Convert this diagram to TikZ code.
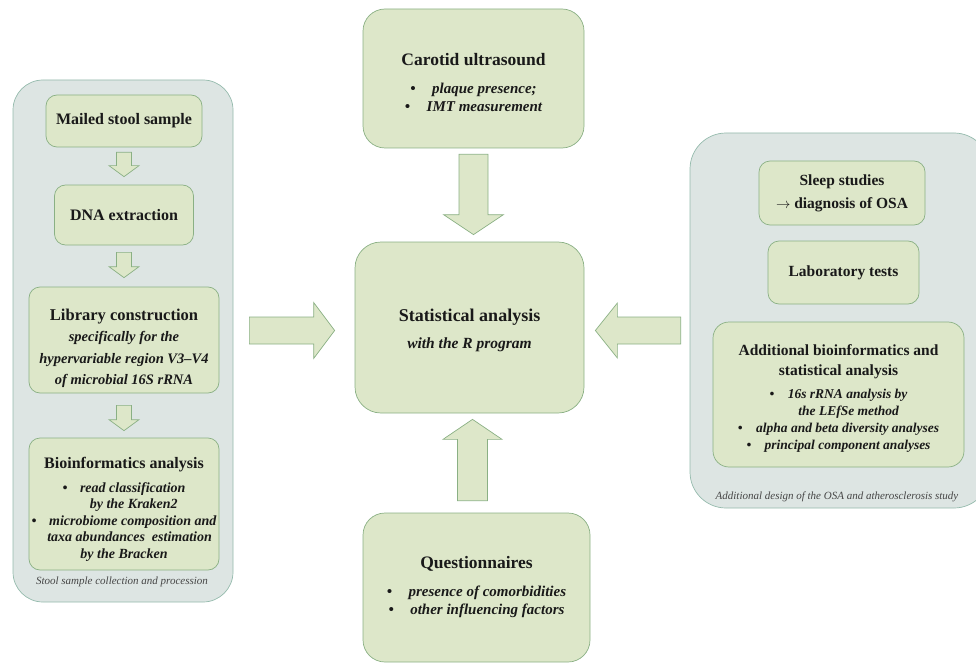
\documentclass[tikz,border=0pt]{standalone}
\usepackage{fontspec}
\setmainfont{Liberation Serif}
\usetikzlibrary{calc}

\definecolor{boxfill}{RGB}{221,231,201}
\definecolor{boxline}{RGB}{138,176,132}
\definecolor{panelfill}{RGB}{221,229,227}
\definecolor{panelline}{RGB}{148,186,172}
\definecolor{txt}{RGB}{25,25,25}
\definecolor{captxt}{RGB}{70,70,70}

\tikzset{
  box/.style={draw=boxline, fill=boxfill, line width=0.7pt, rounded corners=11pt,
    align=center, inner sep=0pt, text=txt},
  bigbox/.style={box, rounded corners=22pt},
  panel/.style={draw=panelline, fill=panelfill, line width=0.7pt, rounded corners=30pt, inner sep=0pt},
  caption/.style={font=\fontsize{11}{13}\selectfont\itshape, text=captxt},
  fatarrow/.style n args={3}{draw=boxline, fill=boxfill, line width=0.7pt,
    to path={($(\tikztotarget)!#3!(\tikztostart)$) coordinate (hb)
      ($(\tikztostart)!#1!90:(\tikztotarget)$) -- ($(hb)!#1!90:(\tikztotarget)$)
      -- ($(hb)!#2!90:(\tikztotarget)$) -- (\tikztotarget)
      -- ($(hb)!#2!-90:(\tikztotarget)$) -- ($(hb)!#1!-90:(\tikztotarget)$)
      -- ($(\tikztostart)!#1!-90:(\tikztotarget)$) -- cycle}}
}
\newcommand\hdline[2]{{\upshape\fontsize{#1}{18}\selectfont #2}}

\begin{document}
\begin{tikzpicture}[x=1pt, y=-1pt]
  \useasboundingbox (0,0) rectangle (976,663);

  % stool sample panel
  \node[panel, minimum width=220, minimum height=522] (leftpanel) at (123,341) {};
  \node[box, minimum width=156, minimum height=52, font=\fontsize{16}{20}\selectfont\bfseries]
    (mailed) at (124,121) {Mailed stool sample};
  \node[box, minimum width=139, minimum height=60, font=\fontsize{16}{20}\selectfont\bfseries]
    (dna) at (124,215) {DNA extraction};
  \node[box, minimum width=190, minimum height=106, font=\fontsize{14.5}{21.5}\selectfont\bfseries\itshape]
    (library) at (124,340) {\hdline{16.5}{\rule{0pt}{28pt}Library construction}\\
      specifically for the\\hypervariable region V3–V4\\of microbial 16S rRNA};
  \node[box, minimum width=190, minimum height=132, font=\fontsize{14}{15.5}\selectfont\bfseries\itshape]
    (bioinf) at (124,504) {\hdline{16}{\rule{0pt}{22pt}Bioinformatics analysis}\\[9pt]
      \textbullet\hspace{0.9em}read classification\\
      \hspace{1.4em}by the Kraken2\\[2pt]
      \textbullet\hspace{0.9em}microbiome composition and\\
      \hspace{0.8em}taxa abundances\ \ estimation\\[2pt]
      by the Bracken};
  \node[caption] (leftcap) at (122,582) {Stool sample collection and procession};

  \draw[fatarrow={7.5pt}{15pt}{11pt}] ([yshift=-5pt]mailed.south) to ([yshift=8pt]dna.north);
  \draw[fatarrow={7.5pt}{15pt}{11pt}] ([yshift=-7pt]dna.south) to ([yshift=9pt]library.north);
  \draw[fatarrow={7.5pt}{15pt}{11pt}] ([yshift=-12pt]library.south) to ([yshift=7pt]bioinf.north);

  % centre column
  \node[bigbox, minimum width=221, minimum height=139, font=\fontsize{15}{18}\selectfont\bfseries\itshape]
    (carotid) at (473.5,78.5) {\hdline{17.5}{\rule{0pt}{20pt}Carotid ultrasound}\\[10pt]
      \textbullet\hspace{1.1em}plaque presence;\\
      \textbullet\hspace{1.1em}IMT measurement};
  \node[bigbox, rounded corners=26pt, minimum width=229, minimum height=171, font=\fontsize{15.5}{18}\selectfont\bfseries\itshape]
    (stat) at (469.5,327.5) {\hdline{18}{\rule{0pt}{18pt}Statistical analysis}\\[9pt]
      with the R program};
  \node[bigbox, minimum width=227, minimum height=149, font=\fontsize{15}{18}\selectfont\bfseries\itshape]
    (quest) at (476.5,587.5) {\hdline{17.5}{Questionnaires}\\[10pt]
      \textbullet\hspace{1.1em}presence of comorbidities\\
      \textbullet\hspace{1.1em}other influencing factors};

  \draw[fatarrow={14.5pt}{30pt}{20pt}] ([yshift=-6pt]carotid.south) to ([yshift=7pt]carotid.south |- stat.north);
  \draw[fatarrow={15pt}{29.5pt}{20pt}] ([xshift=-4pt,yshift=12pt]quest.north) to ([xshift=-4pt,yshift=-6pt]quest.north |- stat.south);

  % additional design panel
  \node[panel, rounded corners=36pt, minimum width=300, minimum height=375] (rightpanel) at (840,320.5) {};
  \node[box, minimum width=166, minimum height=64, font=\fontsize{15.5}{23}\selectfont\bfseries]
    (sleep) at (842,193) {Sleep studies\\$\rightarrow$ diagnosis of OSA};
  \node[box, minimum width=151, minimum height=63, font=\fontsize{15.5}{20}\selectfont\bfseries]
    (lab) at (843.5,272.5) {Laboratory tests};
  \node[box, rounded corners=16pt, minimum width=251, minimum height=145, font=\fontsize{13.5}{17}\selectfont\bfseries\itshape]
    (addl) at (838.5,394.5) {\hdline{15.5}{\rule{0pt}{18pt}Additional bioinformatics and}\\[3pt]
      \hdline{15.5}{statistical analysis}\\[6pt]
      \textbullet\hspace{1em}16s rRNA analysis by\\
      \hspace{1.5em}the LEfSe method\\
      \textbullet\hspace{1em}alpha and beta diversity analyses\\
      \textbullet\hspace{1em}principal component analyses};
  \node[caption] (rightcap) at (837,497) {Additional design of the OSA and atherosclerosis study};

  \draw[fatarrow={13.5pt}{28pt}{21pt}] ([xshift=16pt,yshift=-3pt]leftpanel.east |- stat.west) to ([xshift=-20pt,yshift=-3pt]stat.west);
  \draw[fatarrow={13.5pt}{27.5pt}{22pt}] ([xshift=-9pt,yshift=-3pt]rightpanel.west |- stat.east) to ([xshift=11pt,yshift=-3pt]stat.east);
\end{tikzpicture}
\end{document}
